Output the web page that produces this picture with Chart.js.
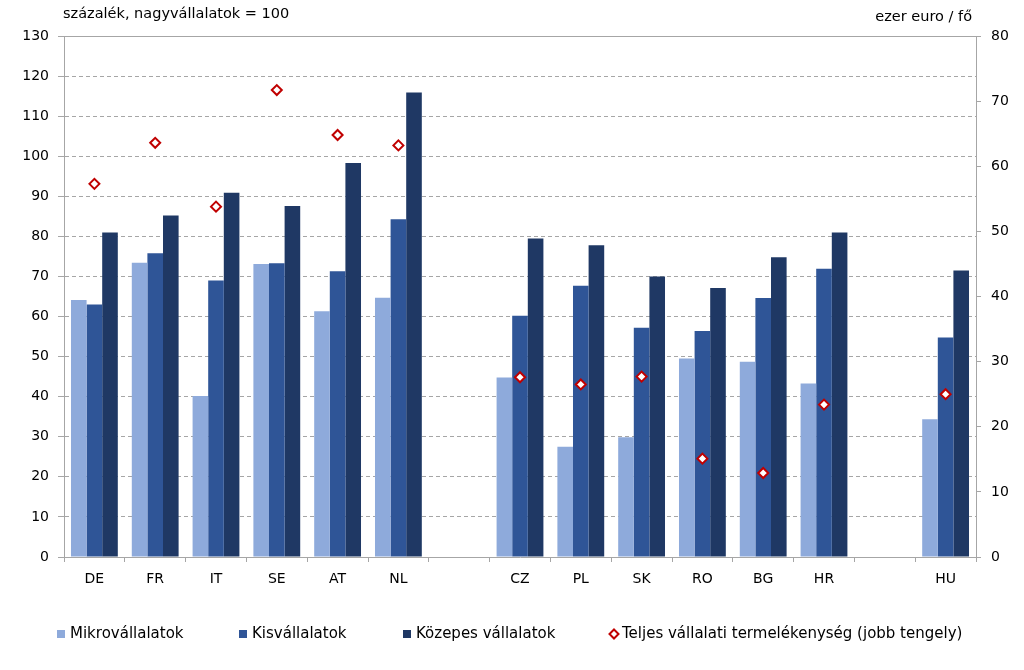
<!DOCTYPE html>
<html>
<head>
<meta charset="utf-8">
<script src="https://cdn.jsdelivr.net/npm/chart.js@4/dist/chart.umd.min.js"></script>
<style>
  html, body { margin: 0; padding: 0; background: #fff; }
  #wrap { width: 1024px; height: 670px; position: relative; }
</style>
</head>
<body>
<div id="wrap"><canvas id="chart" width="1024" height="670"></canvas></div>
<script>
// categories (empty slots separate the country groups)
const categories = ['DE', 'FR', 'IT', 'SE', 'AT', 'NL', '', 'CZ', 'PL', 'SK', 'RO', 'BG', 'HR', '', 'HU']

// left axis, percent of large firms = 100
const micro = [64.1, 73.4, 40.2, 73.1, 61.3, 64.7, null, 44.8, 27.5, 29.9, 49.5, 48.7, 43.3, null, 34.4]
const small = [63.0, 75.8, 69.0, 73.3, 71.3, 84.3, null, 60.2, 67.7, 57.2, 56.4, 64.6, 71.9, null, 54.8]
const medium = [81.0, 85.2, 90.9, 87.6, 98.3, 115.9, null, 79.5, 77.8, 70.0, 67.1, 74.8, 81.0, null, 71.5]

// right axis, thousand euro / person
const productivity = [57.3, 63.6, 53.8, 71.7, 64.8, 63.2, null, 27.6, 26.5, 27.7, 15.1, 12.9, 23.4, null, 25.0]

const seriesNames = ['Mikrovállalatok', 'Kisvállalatok', 'Közepes vállalatok', 'Teljes vállalati termelékenység (jobb tengely)']
const leftTitle = 'százalék, nagyvállalatok = 100'
const rightTitle = 'ezer euro / fő'

const FONT = '"DejaVu Sans", Verdana, sans-serif'
const GRID = '#a6a6a6'

const extrasPlugin = {
  id: 'extras',
  afterDraw(chart) {
    const ctx = chart.ctx
    const area = chart.chartArea
    ctx.save()
    // top border of plot area
    ctx.strokeStyle = GRID
    ctx.lineWidth = 1
    ctx.beginPath()
    ctx.moveTo(area.left, Math.round(area.top) + 0.5)
    ctx.lineTo(area.right, Math.round(area.top) + 0.5)
    ctx.stroke()

    // axis titles
    ctx.fillStyle = '#000'
    ctx.font = '14.5px ' + FONT
    ctx.textBaseline = 'middle'
    ctx.textAlign = 'left'
    ctx.fillText(leftTitle, 63, 14)
    ctx.textAlign = 'right'
    ctx.fillText(rightTitle, 972, 17)

    // legend (dataset 0 is the diamond series)
    const legendY = 634
    const items = [
      { x: 57, ds: 1 },
      { x: 239, ds: 2 },
      { x: 403, ds: 3 },
      { x: 614, ds: 0 }
    ]
    ctx.font = '15px ' + FONT
    ctx.textAlign = 'left'
    items.forEach(it => {
      const ds = chart.data.datasets[it.ds]
      if (ds.type === 'line') {
        const cx = it.x
        ctx.beginPath()
        ctx.moveTo(cx, legendY - 4.5)
        ctx.lineTo(cx + 4.5, legendY)
        ctx.lineTo(cx, legendY + 4.5)
        ctx.lineTo(cx - 4.5, legendY)
        ctx.closePath()
        ctx.fillStyle = ds.pointBackgroundColor
        ctx.fill()
        ctx.strokeStyle = ds.pointBorderColor
        ctx.lineWidth = 2
        ctx.stroke()
        ctx.fillStyle = '#000'
        ctx.fillText(ds.label, it.x + 8, legendY)
      } else {
        ctx.fillStyle = ds.backgroundColor
        ctx.fillRect(it.x, legendY - 4, 8, 8)
        ctx.fillStyle = '#000'
        ctx.fillText(ds.label, it.x + 13, legendY)
      }
    })
    ctx.restore()
  }
}

new Chart(document.getElementById('chart').getContext('2d'), {
  type: 'bar',
  data: {
    labels: categories,
    datasets: [
      {
        type: 'line',
        label: seriesNames[3],
        data: productivity,
        yAxisID: 'y1',
        showLine: false,
        pointStyle: 'rectRot',
        pointRadius: 5,
        pointBorderWidth: 2,
        pointBorderColor: '#c00000',
        pointBackgroundColor: '#ffffff',
        order: 0
      },
      { label: seriesNames[0], data: micro, backgroundColor: '#8eaadb', borderWidth: 0, yAxisID: 'y', order: 1 },
      { label: seriesNames[1], data: small, backgroundColor: '#2f5597', borderWidth: 0, yAxisID: 'y', order: 1 },
      { label: seriesNames[2], data: medium, backgroundColor: '#1f3864', borderWidth: 0, yAxisID: 'y', order: 1 }
    ]
  },
  options: {
    responsive: false,
    animation: false,
    layout: { padding: { top: 36, left: 0, right: 0, bottom: 0 } },
    datasets: {
      bar: { categoryPercentage: 0.77, barPercentage: 1.0 }
    },
    plugins: {
      legend: { display: false },
      tooltip: { enabled: false }
    },
    scales: {
      x: {
        offset: true,
        grid: { offset: true, drawOnChartArea: false, tickLength: 5, tickColor: GRID },
        border: { color: GRID },
        ticks: { color: '#000', font: { family: FONT, size: 14 }, padding: 9, maxRotation: 0, autoSkip: false },
        afterFit(scale) { scale.height = 113 }
      },
      y: {
        position: 'left',
        min: 0,
        max: 130,
        ticks: { stepSize: 10, color: '#000', font: { family: FONT, size: 14 }, padding: 9 },
        grid: {
          color: c => (c.tick && (c.tick.value === 0 || c.tick.value === 130)) ? 'rgba(0,0,0,0)' : GRID,
          tickColor: GRID,
          tickLength: 6,
          tickBorderDash: []
        },
        border: { color: GRID, dash: [4, 3] },
        afterFit(scale) { scale.width = 64 }
      },
      y1: {
        position: 'right',
        min: 0,
        max: 80,
        ticks: { stepSize: 10, color: '#000', font: { family: FONT, size: 14 }, padding: 10 },
        grid: { drawOnChartArea: false, tickColor: GRID, tickLength: 5 },
        border: { color: GRID },
        afterFit(scale) { scale.width = 48 }
      }
    }
  },
  plugins: [extrasPlugin]
})
</script>
</body>
</html>
